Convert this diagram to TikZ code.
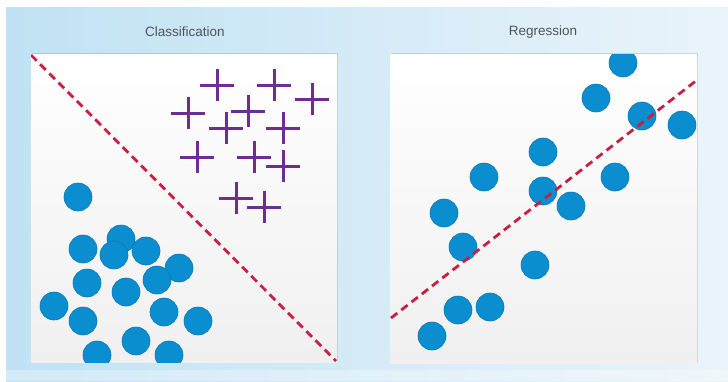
\documentclass[tikz,border=0pt]{standalone}
\usepackage{fontspec}
\setmainfont{Liberation Sans}
\usetikzlibrary{shadows}
\definecolor{bgleft}{RGB}{192,226,244}
\definecolor{bgright}{RGB}{234,244,250}
\definecolor{dotblue}{RGB}{10,142,208}
\definecolor{dotedge}{RGB}{12,120,180}
\definecolor{crosspurple}{RGB}{108,46,145}
\definecolor{linered}{RGB}{200,32,64}
\definecolor{titlegray}{RGB}{80,84,90}
\tikzset{
  panel/.style={top color=white, bottom color=black!6, draw=none,
    drop shadow={shadow xshift=1.2pt, shadow yshift=1.2pt, opacity=0.22, fill=black!60}},
  dot/.style={fill=dotblue, draw=dotedge, line width=0.6pt},
  crossmark/.style={draw=crosspurple, line width=3pt},
  sepline/.style={draw=linered, line width=2.8pt, dash pattern=on 8pt off 5pt},
  title/.style={text=titlegray, font=\fontsize{13.5}{15}\selectfont, inner sep=0pt}
}
\newcommand{\crs}[2]{\draw[crossmark] (#1-17,#2) -- (#1+17,#2) (#1,#2-16) -- (#1,#2+16);}
\begin{document}
\begin{tikzpicture}[x=1pt,y=-1pt]
\useasboundingbox (0,0) rectangle (728,381);
\fill[white] (0,0) rectangle (728,381);
\shade[left color=bgleft, right color=bgright, shading angle=90] (6,7) rectangle (728,381);
\fill[white, opacity=0.3] (6,370) rectangle (728,381);
% titles
\node[title] (tc) at (185,32) {Classification};
\node[title] (tr) at (543,32) {Regression};
% panels
\path[panel] (31,54) rectangle (337,362);
\path[panel] (390,54) rectangle (697,363);
% classification
\begin{scope}
\clip (31,54) rectangle (337,362);
\foreach \x/\y in {78/197, 83/249, 121/239, 114/255, 146/251, 179/268, 87/283, 157/280, 126/292, 54/306, 83/321, 164/312, 198/321, 136/341, 97/355, 169/355}
  \fill[dot] (\x,\y) circle (14);
\draw[sepline] (31,55) -- (336,361);
\end{scope}
\crs{217}{85}
\crs{274}{85}
\crs{312}{99}
\crs{188}{113}
\crs{248}{111}
\crs{226}{128}
\crs{283}{128}
\crs{197}{157}
\crs{254}{157}
\crs{283}{166}
\crs{236}{198}
\crs{264}{207}
% regression
\begin{scope}
\clip (390,54) rectangle (697,363);
\foreach \x/\y in {623/63, 596/98, 642/116, 682/125, 543/152, 484/177, 615/177, 543/191, 444/213, 571/206, 463/247, 535/265, 458/310, 490/307, 432/336}
  \fill[dot] (\x,\y) circle (14);
\draw[sepline] (391,318) -- (697,80);
\end{scope}
\end{tikzpicture}
\end{document}
